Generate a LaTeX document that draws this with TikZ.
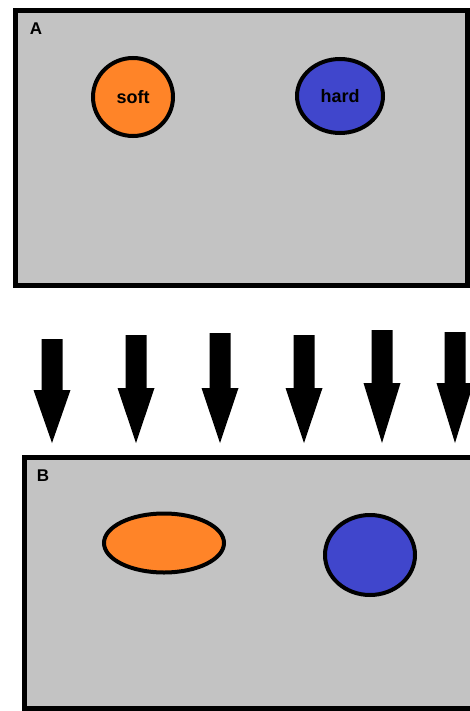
\documentclass[tikz,border=0pt]{standalone}
\usepackage{fontspec}
\setmainfont{Liberation Sans}
\usetikzlibrary{shapes.geometric, positioning}
\definecolor{panelgray}{RGB}{195,195,195}
\definecolor{softorange}{RGB}{255,132,40}
\definecolor{hardblue}{RGB}{64,70,204}
\tikzset{
panel/.style={draw=black, line width=5pt, fill=panelgray}, % the two grey boxes
ball/.style={ellipse, draw=black, line width=4pt, inner sep=0pt, font=\bfseries\fontsize{18}{21}\selectfont}, % the particles
tag/.style={font=\bfseries\fontsize{17}{20}\selectfont}, % panel letters
}

\begin{document}
\begin{tikzpicture}[x=1pt, y=-1pt]
            \useasboundingbox (0,0) rectangle (470,711);
            \clip (0,0) rectangle (470,711);

            % panel A
            \draw[panel] (15,11) rectangle (467,285);
            \node[tag] (a) at (36,29) {A};
            \node[ball, fill=softorange, minimum width=80pt, minimum height=78pt] (soft) at (133,97) {soft};
            \node[ball, fill=hardblue, minimum width=86pt, minimum height=74pt, right of=soft, node distance=207pt, yshift=1pt] (hard) {hard};

            % pressing arrows
            \foreach \x/\t/\h in {52/339/390, 136/335/388, 220/333/388, 304/335/388, 382/330/383, 455/332/383}
                \fill (\x-10.5,\t) -- (\x+10.5,\t) -- (\x+10.5,\h) -- (\x+18.5,\h) -- (\x,443) -- (\x-18.5,\h) -- (\x-10.5,\h) -- cycle;

            % panel B
            \draw[panel] (24,457) rectangle (490,708);
            \node[tag] (b) at (43,476) {B};
            \node[ball, fill=softorange, minimum width=120pt, minimum height=59pt] (squashed) at (164,543) {};
            \node[ball, fill=hardblue, minimum width=90pt, minimum height=80pt] (kept) at (370,555) {};
        \end{tikzpicture}
\end{document}
